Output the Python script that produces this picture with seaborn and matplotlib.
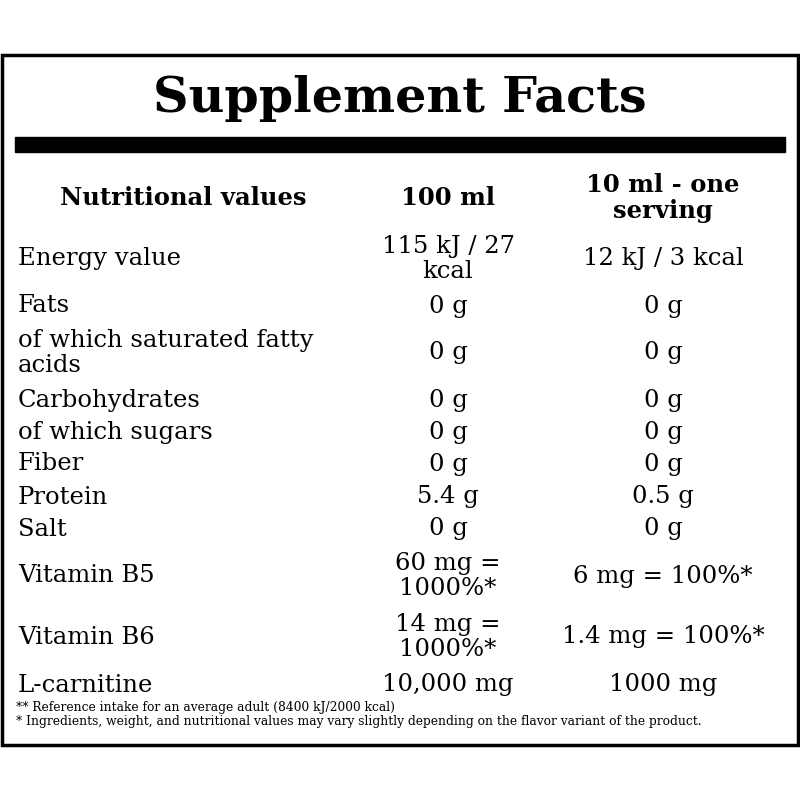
import matplotlib
matplotlib.use("Agg")
import matplotlib.pyplot as plt
import seaborn as sns

sns.set_theme(style="white")
plt.rcParams['font.family'] = ['DejaVu Serif', 'Liberation Serif']
plt.rcParams['text.color'] = 'black'

title = "Supplement Facts"
headers = ["Nutritional values", "100 ml", "10 ml - one\nserving"]
nutrients = ["Energy value", "Fats", "of which saturated fatty\nacids", "Carbohydrates",
             "of which sugars", "Fiber", "Protein", "Salt", "Vitamin B5", "Vitamin B6", "L-carnitine"]
per100 = ["115 kJ / 27\nkcal", "0 g", "0 g", "0 g", "0 g", "0 g", "5.4 g", "0 g",
          "60 mg =\n1000%*", "14 mg =\n1000%*", "10,000 mg"]
perServing = ["12 kJ / 3 kcal", "0 g", "0 g", "0 g", "0 g", "0 g", "0.5 g", "0 g",
              "6 mg = 100%*", "1.4 mg = 100%*", "1000 mg"]
row_y = [259, 306, 353, 400, 432, 464, 497, 529, 576, 637, 685]
footnotes = ["** Reference intake for an average adult (8400 kJ/2000 kcal)",
             "* Ingredients, weight, and nutritional values may vary slightly depending on the flavor variant of the product."]

fig = plt.figure(figsize=(8, 8), dpi=100)
ax = fig.add_axes([0, 0, 1, 1])
ax.set_xlim(0, 800); ax.set_ylim(800, 0); ax.axis("off")

ax.add_patch(plt.Rectangle((2, 55), 796, 690, fill=False, lw=2.5, ec="black"))
ax.add_patch(plt.Rectangle((15, 137), 770, 15, color="black"))
ax.text(400, 99, title, ha="center", va="center", fontsize=35.5, fontweight="bold", color="black")

hx = [183, 448, 663]
for x, h in zip(hx, headers):
    ax.text(x, 198, h, ha="center", va="center", fontsize=17.5, fontweight="bold",
            linespacing=1.15, color="black")

for y, n, a, b in zip(row_y, nutrients, per100, perServing):
    for x, t, ha in ((18, n, "left"), (448, a, "center"), (663, b, "center")):
        ax.text(x, y, t, ha=ha, va="center", fontsize=17.5, linespacing=1.1, color="black")

ax.text(16, 708, footnotes[0], ha="left", va="center", fontsize=8.8, color="black")
ax.text(16, 722, footnotes[1], ha="left", va="center", fontsize=8.8, color="black")

fig.savefig("out.png", dpi=100, facecolor="white")
